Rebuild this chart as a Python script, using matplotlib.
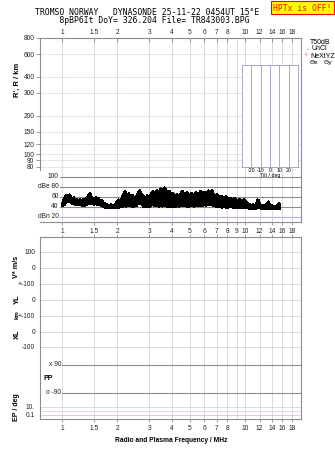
import matplotlib
matplotlib.use('Agg')
import matplotlib.pyplot as plt
import matplotlib.transforms as mtrans
from matplotlib.patches import Rectangle
from matplotlib.lines import Line2D
from matplotlib.ticker import NullLocator

# header text
title1 = "TROMSO NORWAY   DYNASONDE 25-11-22 0454UT 15\u00b0E"
title2 = "8pBP6It DoY= 326.204 File= TR843003.BPG"
status = "HPTx is OFF!"

# frequency axis (MHz)
grid_freq = [1, 1.5, 2, 3, 4, 5, 6, 7, 8, 9, 10, 12, 14, 16, 18]
edge_labels = ['1', '1.5', '2', '3', '4', '5', '6', '7', '8', '10', '12', '14', '16', '18']
edge_freq = [1, 1.5, 2, 3, 4, 5, 6, 7, 8, 10, 12, 14, 16, 18]
mid_labels = ['1', '1.5', '2', '3', '4', '5', '6', '7', '8', '9', '10', '12', '14', '16', '18']

# range panel (km)
range_ticks = [80, 90, 100, 120, 150, 200, 300, 400, 600, 800]
tilt_ticks = [-20, -10, 0, 10, 20]

# amplitude panel (dB)
amp_ticks = [100, 80, 60, 40, 20]
amp_labels = ['100', 'dBe 80', '60', '40', 'dBn 20']

# amplitude trace: frequency, upper and lower edge
amp_f = [1.00, 1.02, 1.04, 1.06, 1.08, 1.10, 1.12, 1.14, 1.16, 1.18, 1.20, 1.22,
         1.25, 1.28, 1.31, 1.34, 1.37, 1.40, 1.42, 1.44, 1.47, 1.50, 1.53, 1.56,
         1.59, 1.62, 1.65, 1.68, 1.72, 1.76, 1.80, 1.85, 1.90, 1.95, 2.00, 2.04,
         2.08, 2.12, 2.16, 2.20, 2.24, 2.28, 2.32, 2.37, 2.42, 2.48, 2.54, 2.60,
         2.66, 2.72, 2.78, 2.85, 2.92, 3.00, 3.07, 3.14, 3.22, 3.30, 3.38, 3.46,
         3.54, 3.62, 3.70, 3.78, 3.86, 3.95, 4.05, 4.15, 4.25, 4.35, 4.45, 4.55,
         4.65, 4.80, 4.95, 5.10, 5.25, 5.40, 5.55, 5.70, 5.85, 6.00, 6.15, 6.30,
         6.45, 6.60, 6.75, 6.90, 7.05, 7.25, 7.45, 7.65, 7.85, 8.05, 8.30, 8.55,
         8.80, 9.05, 9.30, 9.60, 9.90, 10.2, 10.5, 10.8, 11.1, 11.4, 11.7, 11.9,
         12.2, 12.6, 13.0, 13.4, 13.7, 14.1, 14.5, 14.9, 15.3, 15.4]
amp_hi = [45, 55, 61, 64, 62, 65, 58, 56, 59, 54, 56, 52,
          55, 53, 56, 52, 60, 64, 68, 62, 58, 56, 59, 55,
          57, 52, 54, 49, 47, 45, 44, 45, 43, 44, 52, 55,
          50, 58, 65, 72, 66, 62, 67, 60, 64, 57, 60, 68,
          73, 66, 62, 58, 63, 60, 68, 72, 66, 74, 70, 77,
          72, 79, 74, 70, 72, 66, 68, 62, 65, 60, 68, 72,
          66, 69, 64, 68, 62, 70, 65, 72, 67, 70, 66, 73,
          71, 74, 64, 62, 65, 59, 62, 57, 61, 56, 58, 55,
          58, 53, 56, 51, 55, 50, 46, 44, 45, 43, 55, 50,
          44, 43, 44, 51, 42, 43, 41, 42, 48, 40]
amp_lo = [42, 44, 48, 52, 51, 52, 48, 47, 46, 45, 46, 44,
          44, 43, 42, 43, 45, 47, 48, 46, 47, 45, 46, 44,
          45, 43, 42, 41, 39, 38, 38, 38, 38, 38, 39, 39,
          40, 41, 41, 42, 41, 42, 43, 42, 41, 41, 42, 46,
          48, 45, 41, 40, 41, 40, 43, 44, 42, 43, 41, 42,
          41, 43, 42, 40, 41, 40, 41, 40, 42, 41, 43, 42,
          43, 41, 41, 42, 41, 43, 42, 43, 42, 44, 43, 45,
          44, 45, 42, 41, 40, 40, 39, 40, 39, 39, 40, 39,
          39, 39, 38, 38, 38, 38, 37, 37, 37, 37, 38, 38,
          37, 37, 37, 37, 37, 37, 37, 37, 37, 37]

# lower panel rows (pixel rows of the original layout)
low_rows = [252, 268, 284, 300, 316, 332, 347, 407, 415]
low_labels = ['100', '0', '+-100', '0', '+-100', '0', '-100', '10.', '0.1']
pol_rows = [365, 393]
pol_labels = ['x 90', 'o -90']

W, H = 335, 451
fig = plt.figure(figsize=(W / 100, H / 100), dpi=100)

gridc = '#d4d4d4'
spinec = '#8c8c8c'
tickfont = dict(family='Liberation Sans', fontsize=4.8, color='#222222')
fmin, fmax = 0.758, 20.2


def box(x0, y0, x1, y1):
    return fig.add_axes([x0 / W, 1 - y1 / H, (x1 - x0) / W, (y1 - y0) / H])


def ftext(x, y, s, **kw):
    return fig.text(x / W, 1 - y / H, s, **kw)


def freq_axis(ax):
    ax.set_xscale('log')
    ax.set_xlim(fmin, fmax)
    ax.xaxis.set_minor_locator(NullLocator())
    ax.set_facecolor('none')
    for f in grid_freq:
        ax.axvline(f, color=gridc, lw=0.6, zorder=0)
    for s in ax.spines.values():
        s.set_color(spinec)
        s.set_linewidth(0.8)
    ax.tick_params(colors=spinec, labelcolor='#222222', width=0.6)


# ---- top panel: virtual range
ax1 = box(40, 38, 301, 170)
freq_axis(ax1)
ax1.set_yscale('log')
ax1.set_ylim(75.8, 800)
ax1.yaxis.set_minor_locator(NullLocator())
ax1.set_yticks(range_ticks)
ax1.set_yticklabels([str(v) for v in range_ticks], **tickfont)
for v in range_ticks[:-1]:
    ax1.axhline(v, color=gridc, lw=0.6, ls=(0, (2, 1)), zorder=0)
ax1.set_xticks(edge_freq)
ax1.set_xticklabels(edge_labels, **tickfont)
ax1.tick_params(axis='x', top=True, labeltop=True, bottom=False, labelbottom=False,
                direction='in', length=3, pad=1.5)
ax1.tick_params(axis='y', direction='out', length=3, pad=1)
ax1.spines['bottom'].set_visible(False)

# tilt inset
axi = box(242, 65, 298, 167)
axi.set_zorder(5)
axi.set_xlim(-30, 30)
axi.set_ylim(0, 1)
axi.set_yticks([])
for t in tilt_ticks:
    axi.axvline(t, color='#a8a8cc', lw=0.7)
for s in axi.spines.values():
    s.set_color('#a8a8cc')
    s.set_linewidth(0.7)
axi.set_xticks(tilt_ticks)
axi.set_xticklabels([str(t) for t in tilt_ticks], family='Liberation Sans', fontsize=3.8)
axi.tick_params(axis='x', length=0, pad=0.8)
axi.set_xlabel('Tilt / deg', family='Liberation Sans', fontsize=3.8, labelpad=0)

# legend
legfont = dict(family='Liberation Sans', fontsize=5)
ftext(310, 43.5, 'T50dB', **legfont)
fig.lines.append(Line2D([304 / W, 309 / W], [1 - 41.5 / H] * 2, color='#a0a0a0', lw=0.9))
ftext(306.5, 50, '.', **legfont)
ftext(312, 50.5, 'UnCl', **legfont)
ftext(304, 57.5, '+', family='Liberation Sans', fontsize=5.4, color='#e070a0')
ftext(310, 57.5, 'NeXtYZ', **legfont)
fig.lines.append(Line2D([304 / W, 309 / W], [1 - 62 / H] * 2, color='#ff8080', lw=0.9))
ftext(310, 64, '\u0398x', family='DejaVu Sans', fontsize=4.6)
fig.lines.append(Line2D([317 / W, 323 / W], [1 - 62 / H] * 2, color='#8080ff', lw=0.9))
ftext(324, 64, '\u0398y', family='DejaVu Sans', fontsize=4.6)

# ---- middle panel: amplitude
ax2 = box(40, 170, 301, 222)
freq_axis(ax2)
ax2.set_ylim(10, 114)
ax2.set_yticks([])
ax2.spines['left'].set_visible(False)
ax2.spines['top'].set_visible(False)
start = 20 / 261
for v in amp_ticks:
    c = '#b4b4ee' if v == 20 else '#8c8c8c'
    ax2.axhline(v, xmin=start, color=c, lw=0.8, zorder=1)
tr = mtrans.blended_transform_factory(ax2.transAxes, ax2.transData)
for v, lab in zip(amp_ticks, amp_labels):
    ax2.text(18.5 / 261, v, lab, transform=tr, ha='right', va='center', **tickfont)
ax2.fill_between(amp_f, amp_lo, amp_hi, color='black', lw=0, zorder=3, antialiased=False)
ax2.vlines(amp_f, amp_lo, amp_hi, color='black', lw=1.0, zorder=3, antialiased=False)
ax2.plot(amp_f, amp_hi, color='black', lw=0.9, zorder=3, antialiased=False)
ax2.plot(amp_f, amp_lo, color='black', lw=0.9, zorder=3, antialiased=False)
ax2.set_xticks(grid_freq)
ax2.set_xticklabels(mid_labels, **tickfont)
ax2.tick_params(axis='x', direction='out', length=2.5, pad=2)

# ---- lower panel: velocity, location, polarisation
ax3 = box(40, 237, 301, 419)
freq_axis(ax3)
ax3.set_ylim(419, 237)
for r in low_rows[:7]:
    ax3.axhline(r, color=gridc, lw=0.6, zorder=0)
ax3.axhline(low_rows[7], color=gridc, lw=0.6, zorder=0)
ax3.axhline(411, color='#f2c8d8', lw=0.6, zorder=0)
ax3.axhline(low_rows[8], color='#c8c8f0', lw=0.6, zorder=0)
for r in pol_rows:
    ax3.axhline(r, xmin=22 / 261, color='#8c8c8c', lw=0.8, zorder=1)
ax3.set_yticks(low_rows)
ax3.set_yticklabels(low_labels, **tickfont)
ax3.tick_params(axis='y', length=0, pad=3.5)
tr3 = mtrans.blended_transform_factory(ax3.transAxes, ax3.transData)
for r, lab in zip(pol_rows, pol_labels):
    ax3.text(21.5 / 261, r, lab, transform=tr3, ha='right', va='center', **tickfont)
ax3.text(3 / 261, 379, 'PP', transform=tr3, ha='left', va='center',
         family='Liberation Sans', fontsize=5, fontweight='bold')
ax3.set_xticks(edge_freq)
ax3.set_xticklabels(edge_labels, **tickfont)
ax3.tick_params(axis='x', top=True, direction='out', length=2.5, pad=2)

# axis titles
lab = dict(family='Liberation Sans', fontweight='bold', rotation=90, ha='center', va='center')
ftext(17, 80, "R', R / km", fontsize=5.4, **lab)
ftext(17, 267, 'V* m/s', fontsize=5.2, **lab)
ftext(17, 299, 'YL', fontsize=5.4, **lab)
ftext(17, 315, 'km', fontsize=4.4, **lab)
ftext(17, 334, 'XL', fontsize=5.4, **lab)
ftext(16, 407, 'EP / deg', fontsize=5.0, **lab)
ftext(171, 440, 'Radio and Plasma Frequency / MHz', family='Liberation Sans',
      fontweight='bold', fontsize=4.8, ha='center', va='center')

# header: both lines in one monospaced block, second line indented
ftext(35, 8.3, title1 + "\n     " + title2, family='DejaVu Sans Mono', fontsize=5.9,
      va='top', ha='left', linespacing=0.82)
fig.patches.append(Rectangle((271 / W, 1 - 13.5 / H), 63 / W, 12.5 / H,
                             transform=fig.transFigure, facecolor='#ffff00',
                             edgecolor='#ff0000', lw=0.8))
ftext(302.5, 11.3, status, family='DejaVu Sans Mono', fontsize=5.8, color='#ff0000',
      ha='center', va='baseline')

fig.savefig('out.png', dpi=100)
